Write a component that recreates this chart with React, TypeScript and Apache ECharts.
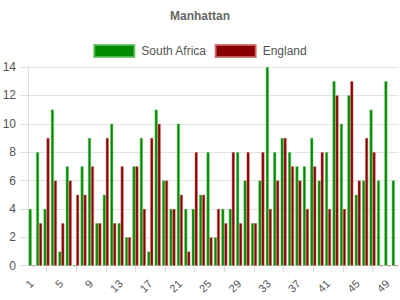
import React, { useEffect, useRef } from "react";
import * as echarts from "echarts";

const overs = Array.from({ length: 50 }, (_, i) => String(i + 1));
const southAfrica = [4, 8, 4, 11, 1, 7, 0, 7, 9, 3, 5, 10, 3, 2, 7, 9, 1, 11, 6, 4, 10, 4, 4, 5, 8, 2, 4, 4, 8, 6, 3, 6, 14, 8, 9, 8, 7, 7, 9, 6, 8, 13, 10, 12, 5, 6, 11, 6, 13, 6];
const england = [0, 3, 9, 6, 3, 6, 5, 5, 7, 3, 9, 3, 7, 2, 7, 4, 9, 10, 6, 4, 5, 1, 8, 5, 2, 4, 3, 8, 3, 8, 3, 8, 4, 6, 9, 7, 6, 4, 7, 8, 4, 12, 4, 13, 6, 9, 8, 0, 0, 0];

export default function App() {
  const ref = useRef<HTMLDivElement>(null);
  useEffect(() => {
    const chart = echarts.init(ref.current!, null, { renderer: "svg" });
    chart.setOption({
      animation: false,
      title: {
        text: "Manhattan",
        left: "center",
        top: 5,
        textStyle: { fontFamily: "Liberation Sans, Arial, sans-serif", fontSize: 12, fontWeight: "bold", color: "#666" },
      },
      legend: {
        top: 39,
        left: "center",
        itemWidth: 40,
        itemHeight: 12,
        itemGap: 8,
        icon: "rect",
        textStyle: { fontFamily: "Liberation Sans, Arial, sans-serif", fontSize: 12, color: "#555", padding: [0, 0, 0, 2] },
        data: ["South Africa", "England"],
      },
      grid: { left: 28, right: 1.5, top: 67, bottom: 34.3, containLabel: false, outerBoundsMode: "none" },
      xAxis: {
        type: "category",
        data: overs,
        boundaryGap: true,
        axisLine: { show: true, lineStyle: { color: "#ddd" } },
        axisTick: {
          show: true,
          alignWithLabel: true,
          length: 7,
          interval: (index: number) => index % 4 === 2,
          lineStyle: { color: "#ddd" },
        },
        axisLabel: {
          interval: 3,
          rotate: 45,
          margin: 16,
          fontSize: 11,
          color: "#555",
          fontFamily: "Liberation Sans, Arial, sans-serif",
        },
        splitLine: { show: false },
      },
      yAxis: {
        type: "value",
        min: 0,
        max: 14,
        interval: 2,
        axisLine: { show: true, lineStyle: { color: "#ddd" } },
        axisTick: { show: true, length: 8, lineStyle: { color: "#ddd" } },
        axisLabel: { fontSize: 12, color: "#555", margin: 12, fontFamily: "Liberation Sans, Arial, sans-serif" },
        splitLine: { lineStyle: { color: "#e4e4e4" } },
      },
      series: [
        {
          name: "South Africa",
          type: "bar",
          data: southAfrica,
          barWidth: 3,
          barGap: "0%",
          itemStyle: { color: "#008a00", borderColor: "rgba(90,190,90,0.85)", borderWidth: 0.6 },
        },
        {
          name: "England",
          type: "bar",
          data: england,
          barWidth: 3,
          itemStyle: { color: "#880000", borderColor: "rgba(200,100,100,0.85)", borderWidth: 0.6 },
        },
      ],
    });
    return () => chart.dispose();
  }, []);
  return <div ref={ref} style={{ position: "absolute", left: 0, top: 0, width: 400, height: 300 }} />;
}
